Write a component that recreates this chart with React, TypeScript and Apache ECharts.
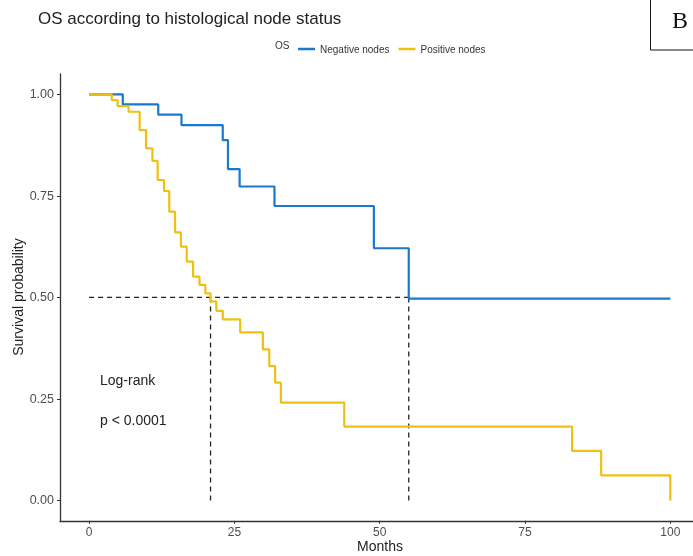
import React, { useEffect, useRef } from "react";
import * as echarts from "echarts";

// Kaplan-Meier curves (time in months, survival probability)
const negTimes = [0, 5.8, 11.9, 15.9, 23.0, 23.9, 25.9, 31.9, 49.0, 55.0, 100];
const negSurv = [1, 0.975, 0.95, 0.924, 0.887, 0.816, 0.773, 0.725, 0.621, 0.497, 0.497];

const posTimes = [0, 3.9, 4.9, 6.8, 8.7, 9.8, 10.9, 11.8, 12.9, 13.8, 14.8, 15.8, 16.8, 17.9, 19.0, 20.0, 20.9, 21.9, 23.0, 26.0, 29.9, 31.0, 32.0, 33.0, 43.9, 83.1, 88.1, 100];
const posSurv = [1, 0.986, 0.971, 0.957, 0.912, 0.867, 0.836, 0.789, 0.762, 0.711, 0.66, 0.625, 0.588, 0.551, 0.531, 0.51, 0.49, 0.467, 0.446, 0.414, 0.372, 0.331, 0.29, 0.241, 0.182, 0.122, 0.062, 0.0];

const medianTimes = [20.9, 55];
const medianLevel = 0.5;

const xTicks = [0, 25, 50, 75, 100];
const yTicks = [0, 0.25, 0.5, 0.75, 1.0];

const seriesNames = ["Negative nodes", "Positive nodes"];
const colors = ["#1a78ce", "#efc010"];

const FONT = "'Liberation Sans', Arial, sans-serif";

export default function App() {
  const ref = useRef<HTMLDivElement>(null);
  useEffect(() => {
    const chart = echarts.init(ref.current!, null, { renderer: "svg" });
    const zip = (t: number[], s: number[]) => t.map((v, i) => [v, s[i]]);
    const dashStyle = { color: "#222", width: 1.3, type: [5, 4] as any };
    const dashSeries: any[] = [
      {
        type: "line",
        name: "median-h",
        data: [[0, medianLevel], [Math.max(...medianTimes), medianLevel]],
        showSymbol: false,
        lineStyle: dashStyle,
        silent: true,
        z: 1,
      },
      ...medianTimes.map((m, i) => ({
        type: "line",
        name: "median-v" + i,
        data: [[m, medianLevel], [m, 0]],
        showSymbol: false,
        lineStyle: dashStyle,
        silent: true,
        z: 1,
      })),
    ];
    chart.setOption({
      animation: false,
      textStyle: { fontFamily: FONT },
      title: {
        text: "OS according to histological node status",
        left: 33,
        top: 5,
        textStyle: { fontSize: 17, fontWeight: "normal", color: "#222", fontFamily: FONT },
      },
      legend: {
        data: seriesNames,
        left: 293,
        top: 39,
        icon: "rect",
        itemWidth: 17,
        itemHeight: 2.5,
        itemGap: 9,
        textStyle: { fontSize: 10, color: "#333", fontFamily: FONT },
      },
      grid: {
        left: 60,
        right: 0,
        top: 74,
        bottom: 35.2,
        containLabel: false,
        outerBoundsMode: "none",
      },
      xAxis: {
        type: "value",
        min: -5,
        max: 103.9,
        axisLine: { show: true, onZero: false, lineStyle: { color: "#333", width: 1.3 } },
        axisTick: { show: true, length: 3, customValues: xTicks, lineStyle: { color: "#333" } },
        axisLabel: { customValues: xTicks, fontSize: 12, color: "#4d4d4d", margin: 5 },
        splitLine: { show: false },
      },
      yAxis: {
        type: "value",
        min: -0.05,
        max: 1.05,
        axisLine: { show: true, onZero: false, lineStyle: { color: "#333", width: 1.3 } },
        axisTick: { show: true, length: 3, customValues: yTicks, lineStyle: { color: "#333" } },
        axisLabel: {
          customValues: yTicks,
          fontSize: 12.5,
          color: "#4d4d4d",
          margin: 6,
          formatter: (v: number) => v.toFixed(2),
        },
        splitLine: { show: false },
      },
      graphic: [
        {
          type: "text",
          x: 380,
          y: 546,
          style: {
            text: "Months",
            fontSize: 14,
            fill: "#222",
            fontFamily: FONT,
            align: "center",
            verticalAlign: "middle",
          },
        },
        {
          type: "text",
          x: 18,
          y: 297,
          rotation: Math.PI / 2,
          style: {
            text: "Survival probability",
            fontSize: 14,
            fill: "#222",
            fontFamily: FONT,
            align: "center",
            verticalAlign: "middle",
          },
        },
        {
          type: "text",
          left: 275,
          top: 40,
          style: { text: "OS", fontSize: 10, fill: "#333", fontFamily: FONT },
        },
        {
          type: "text",
          x: 100,
          y: 380,
          style: { text: "Log-rank", fontSize: 14, fill: "#222", fontFamily: FONT, verticalAlign: "middle" },
        },
        {
          type: "text",
          x: 100,
          y: 420,
          style: { text: "p < 0.0001", fontSize: 14, fill: "#222", fontFamily: FONT, verticalAlign: "middle" },
        },
        {
          type: "rect",
          shape: { x: 650.5, y: -2, width: 60, height: 52 },
          style: { fill: "none", stroke: "#111", lineWidth: 1 },
        },
        {
          type: "text",
          x: 680,
          y: 20,
          style: {
            text: "B",
            fontSize: 24,
            fill: "#111",
            fontFamily: "'Liberation Serif', 'Times New Roman', serif",
            align: "center",
            verticalAlign: "middle",
          },
        },
      ],
      series: [
        ...dashSeries,
        {
          type: "line",
          name: seriesNames[0],
          data: zip(negTimes, negSurv),
          step: "end",
          showSymbol: false,
          color: colors[0],
          lineStyle: { color: colors[0], width: 2.2 },
          z: 3,
        },
        {
          type: "line",
          name: seriesNames[1],
          data: zip(posTimes, posSurv),
          step: "end",
          showSymbol: false,
          color: colors[1],
          lineStyle: { color: colors[1], width: 2.2 },
          z: 4,
        },
      ],
    });
    return () => chart.dispose();
  }, []);
  return <div ref={ref} style={{ position: "fixed", left: 0, top: 0, width: 693, height: 556 }} />;
}
